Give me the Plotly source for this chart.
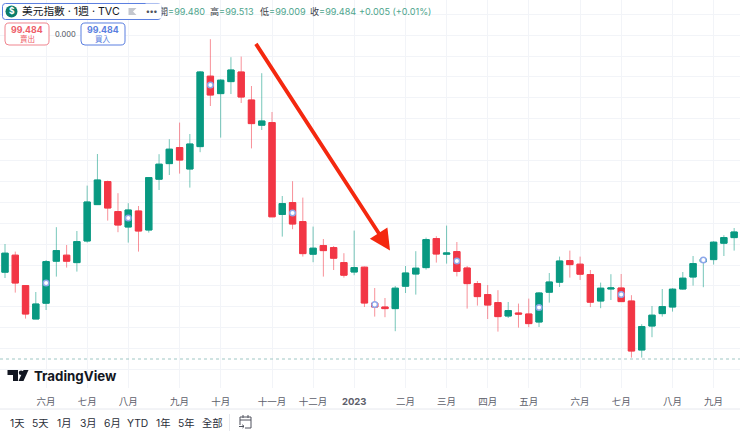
import plotly.graph_objects as go

W, H = 740, 431
weeks = list(range(72))
opens = [103.24,104.09,102.57,100.90,101.69,103.79,104.09,103.72,104.80,106.62,107.77,106.27,105.50,106.30,105.35,107.89,108.67,109.47,108.40,109.52,113.04,112.17,112.77,113.25,111.85,110.59,110.72,106.13,106.72,105.77,104.14,104.57,104.47,103.72,103.25,103.49,101.69,101.50,101.42,102.54,103.15,103.47,104.92,104.14,104.27,103.45,102.67,102.12,101.72,101.05,101.20,101.15,100.75,102.24,102.74,103.82,103.64,103.12,101.80,102.40,102.45,101.80,99.35,100.55,101.17,101.50,102.40,103.00,103.77,103.87,104.69,104.97]
closes = [104.19,102.70,101.15,101.65,103.77,104.32,103.79,104.77,106.75,107.85,106.45,105.60,106.35,105.30,107.97,108.64,109.39,108.85,109.65,113.25,112.10,112.84,113.35,112.00,110.67,110.80,106.01,106.67,105.65,104.17,104.44,104.32,103.94,103.09,103.47,101.70,101.50,101.42,102.44,103.20,103.44,104.87,104.15,104.20,103.28,102.67,102.02,101.60,101.02,101.32,101.15,100.67,102.20,102.75,103.80,103.62,103.14,101.74,102.44,102.45,101.77,99.30,100.52,101.09,101.52,102.39,102.94,103.67,103.89,104.74,104.97,105.25]
highs = [104.65,104.27,102.60,102.25,103.85,105.49,104.60,105.30,107.57,109.15,107.82,107.19,106.69,106.55,107.99,109.14,109.89,110.72,110.15,113.30,114.89,112.89,113.99,114.02,112.55,113.19,111.25,107.05,107.79,106.97,105.52,104.90,104.55,104.19,105.32,103.52,102.45,101.95,102.55,103.55,104.29,104.97,105.04,105.57,104.75,103.55,102.80,102.60,102.34,101.75,101.67,101.92,102.24,103.20,104.02,104.32,104.02,103.35,102.72,103.14,103.15,102.09,100.64,101.55,102.40,102.44,103.25,104.05,103.94,104.79,105.09,105.45]
lows = [102.95,102.22,100.92,100.90,101.35,103.02,103.47,103.27,104.72,106.60,105.82,105.24,104.72,104.27,105.22,107.35,108.10,108.17,107.47,109.24,111.55,109.97,112.15,111.70,109.43,110.35,106.00,105.02,105.39,104.02,103.74,103.02,103.35,102.97,103.09,101.50,101.02,100.99,100.29,102.20,102.12,103.37,103.72,103.67,103.03,101.42,101.57,100.90,100.27,100.95,100.47,100.49,100.50,101.72,102.50,102.97,102.85,101.50,101.44,101.85,101.77,98.97,98.97,99.99,101.02,101.27,102.37,102.57,102.49,103.62,104.05,104.32]

month_weeks = [4,8,12,17,21,26,30,34,39,43,47,51,56,60,65,69]
month_labels = ["六月","七月","八月","九月","十月","十一月","十二月","<b>2023</b>","二月","三月","四月","五月","六月","七月","八月","九月"]
marker_weeks = [4,12,20,28,36,44,52,60,68]
marker_prices = [102.70,105.95,112.60,106.20,101.62,103.80,101.47,102.12,103.85]
last_price_line = 98.90
arrow_start = (24.34, 114.73)
arrow_tip = (37.49, 104.32)
range_labels = ["1天","5天","1月","3月","6月","YTD","1年","5年","全部"]
range_label_x = [17,40.5,64.5,88,112,137.5,163.7,187,212.7]
ohlc_keys = ["開","高","低","收"]
ohlc_values = ["99.480","99.513","99.009","99.484"]
ohlc_x = [158,209,259,309]

GREEN, RED = "#089981", "#f23645"
CJK = "Inter, 'Noto Sans CJK TC', sans-serif"

def fx(x): return x / W
def fy(y): return 1 - y / H

def rrect(x0, y0, x1, y1, r):
    p = [("M", x0 + r, y0), ("L", x1 - r, y0), ("Q", x1, y0, x1, y0 + r), ("L", x1, y1 - r),
         ("Q", x1, y1, x1 - r, y1), ("L", x0 + r, y1), ("Q", x0, y1, x0, y1 - r), ("L", x0, y0 + r),
         ("Q", x0, y0, x0 + r, y0)]
    out = []
    for seg in p:
        coords = seg[1:]
        pts = " ".join(f"{fx(coords[i]):.5f},{fy(coords[i+1]):.5f}" for i in range(0, len(coords), 2))
        out.append(seg[0] + " " + pts)
    return " ".join(out) + " Z"

def poly(points):
    return "M " + " L ".join(f"{fx(a):.5f},{fy(b):.5f}" for a, b in points) + " Z"

def polyline(points):
    return "M " + " L ".join(f"{fx(a):.5f},{fy(b):.5f}" for a, b in points)

fig = go.Figure()
fig.add_trace(go.Candlestick(
    x=weeks, open=opens, high=highs, low=lows, close=closes,
    increasing=dict(line=dict(color="rgba(8,153,129,0.55)", width=1), fillcolor="rgba(0,0,0,0)"),
    decreasing=dict(line=dict(color="rgba(242,54,69,0.55)", width=1), fillcolor="rgba(0,0,0,0)"),
    hoverinfo="skip", showlegend=False))
fig.add_trace(go.Candlestick(
    x=weeks, open=opens, close=closes,
    high=[max(a, b) for a, b in zip(opens, closes)],
    low=[min(a, b) for a, b in zip(opens, closes)],
    increasing=dict(line=dict(color=GREEN, width=1), fillcolor=GREEN),
    decreasing=dict(line=dict(color=RED, width=1), fillcolor=RED),
    hoverinfo="skip", showlegend=False))
fig.add_trace(go.Scatter(
    x=marker_weeks, y=marker_prices, mode="markers",
    marker=dict(size=5.5, color="white", line=dict(color="#8ea8ea", width=1.5)),
    hoverinfo="skip", showlegend=False))

shapes = [
    dict(type="line", xref="paper", x0=0, x1=1, yref="y", y0=last_price_line, y1=last_price_line,
         line=dict(color="#9fc7c4", width=1, dash="dot")),
    dict(type="line", xref="paper", yref="paper", x0=0, x1=1, y0=fy(409), y1=fy(409),
         line=dict(color="#e6e8ee", width=1)),
    dict(type="line", xref="paper", yref="paper", x0=fx(229.5), x1=fx(229.5), y0=fy(414), y1=fy(431),
         line=dict(color="#e6e8ee", width=1)),
    dict(type="path", xref="paper", yref="paper", path=rrect(2.5, 3.5, 161, 19.5, 3),
         fillcolor="white", line=dict(color="#5b7fe0", width=1)),
    dict(type="circle", xref="paper", yref="paper", x0=fx(5.5), x1=fx(17.5), y0=fy(17.5), y1=fy(5.5),
         fillcolor="#0b7d6a", line=dict(width=0)),
    dict(type="path", xref="paper", yref="paper", path=poly([(128.5, 8), (136.5, 8), (133, 11.5), (136.5, 15), (128.5, 15)]),
         fillcolor="#c4c7ce", line=dict(width=0)),
    dict(type="path", xref="paper", yref="paper", path=rrect(5, 23, 49, 45, 4),
         fillcolor="white", line=dict(color="#f0858f", width=1)),
    dict(type="path", xref="paper", yref="paper", path=rrect(81, 23, 125, 45, 4),
         fillcolor="white", line=dict(color="#5b7fe0", width=1)),
    dict(type="path", xref="paper", yref="paper", path=poly([(7.5, 370), (18, 370), (18, 381), (13, 381), (13, 375), (7.5, 375)]),
         fillcolor="#131722", line=dict(width=0)),
    dict(type="circle", xref="paper", yref="paper", x0=fx(18.8), x1=fx(23.4), y0=fy(375), y1=fy(370.4),
         fillcolor="#131722", line=dict(width=0)),
    dict(type="path", xref="paper", yref="paper", path=poly([(23.5, 370), (28.5, 370), (23.5, 381), (18.5, 381)]),
         fillcolor="#131722", line=dict(width=0)),
    dict(type="path", xref="paper", yref="paper",
         path=polyline([(240, 425), (240, 417), (251, 417), (251, 428), (245, 428)]),
         fillcolor="rgba(0,0,0,0)", line=dict(color="#50535e", width=1)),
    dict(type="path", xref="paper", yref="paper", path=polyline([(240, 420), (251, 420)]),
         line=dict(color="#50535e", width=1)),
    dict(type="path", xref="paper", yref="paper", path=polyline([(243, 415), (243, 418)]),
         line=dict(color="#50535e", width=1)),
    dict(type="path", xref="paper", yref="paper", path=polyline([(248, 415), (248, 418)]),
         line=dict(color="#50535e", width=1)),
    dict(type="path", xref="paper", yref="paper", path=polyline([(239, 426.5), (244, 426.5), (242.5, 425), (244, 426.5), (242.5, 428)]),
         line=dict(color="#50535e", width=1)),
]

def label(x, y, text, size, color, anchor="center", font=CJK, **kw):
    return dict(xref="paper", yref="paper", x=fx(x), y=fy(y), text=text, showarrow=False,
                xanchor=anchor, yanchor="middle", font=dict(size=size, color=color, family=font),
                borderpad=0, **kw)

val = "#4ea58d"
key = "#3c3f49"
annotations = []
for xp, k, v in zip(ohlc_x, ohlc_keys, ohlc_values):
    annotations.append(label(xp, 11.5, f'<span style="color:{key}">{k}</span><span style="color:{val}">={v}</span>', 9.1, key, "left"))
annotations.append(label(358, 11.5, "+0.005 (+0.01%)", 9.1, val, "left"))
annotations += [
    dict(xref="paper", yref="paper", x=fx(145), y=fy(11.5), text=" ", showarrow=False, xanchor="left",
         yanchor="middle", width=15, height=14, bgcolor="white", borderpad=0),
    label(11.5, 11.5, "<b>$</b>", 8.5, "white"),
    label(21, 11.5, "美元指數 · 1週 · TVC", 10.7, "#131722", "left"),
    label(152, 11.5, "<b>•••</b>", 8, "#50535e"),
    label(27, 29.5, "<b>99.484</b>", 8.8, "#ee5d69"),
    label(27, 39, "賣出", 7.5, "#ee5d69"),
    label(65, 34.5, "0.000", 7.5, "#50535e"),
    label(103, 29.5, "<b>99.484</b>", 8.8, "#5b7fe0"),
    label(103, 39, "買入", 7.5, "#5b7fe0"),
    label(33, 375.5, "<b>TradingView</b>", 13.3, "#131722", "left"),
    dict(x=arrow_tip[0], y=arrow_tip[1], ax=arrow_start[0], ay=arrow_start[1], xref="x", yref="y",
         axref="x", ayref="y", text="", showarrow=True, arrowhead=2, arrowsize=1.1, arrowwidth=3.8,
         arrowcolor="#f4280f", standoff=0, startstandoff=0),
]
for xp, t in zip(range_label_x, range_labels):
    annotations.append(label(xp, 422.8, t, 10.3, "#2a2e39"))

fig.update_layout(
    width=W, height=H, margin=dict(l=0, r=0, t=0, b=0),
    paper_bgcolor="white", plot_bgcolor="white", boxgap=0.12, boxmode="overlay",
    showlegend=False, shapes=shapes, annotations=annotations,
    xaxis=dict(range=[-0.487, 71.57], tickmode="array", tickvals=month_weeks, ticktext=month_labels,
               showgrid=True, gridcolor="#f2f4f8", gridwidth=1, zeroline=False, showline=False,
               rangeslider=dict(visible=False), ticks="outside", ticklen=5, tickcolor="rgba(0,0,0,0)",
               tickfont=dict(size=9.5, color="#5d606b", family=CJK), tickangle=0),
    yaxis=dict(domain=[fy(388), 1], range=[116.85 - 0.05 * 388, 116.85], tick0=98.375, dtick=1.045,
               showgrid=True, gridcolor="#f2f4f8", gridwidth=1, zeroline=False, showline=False,
               showticklabels=False, ticks=""),
)
fig.write_html("out.html", config=dict(displayModeBar=False),
               post_script="document.body.style.margin='0';document.body.style.overflow='hidden';")
